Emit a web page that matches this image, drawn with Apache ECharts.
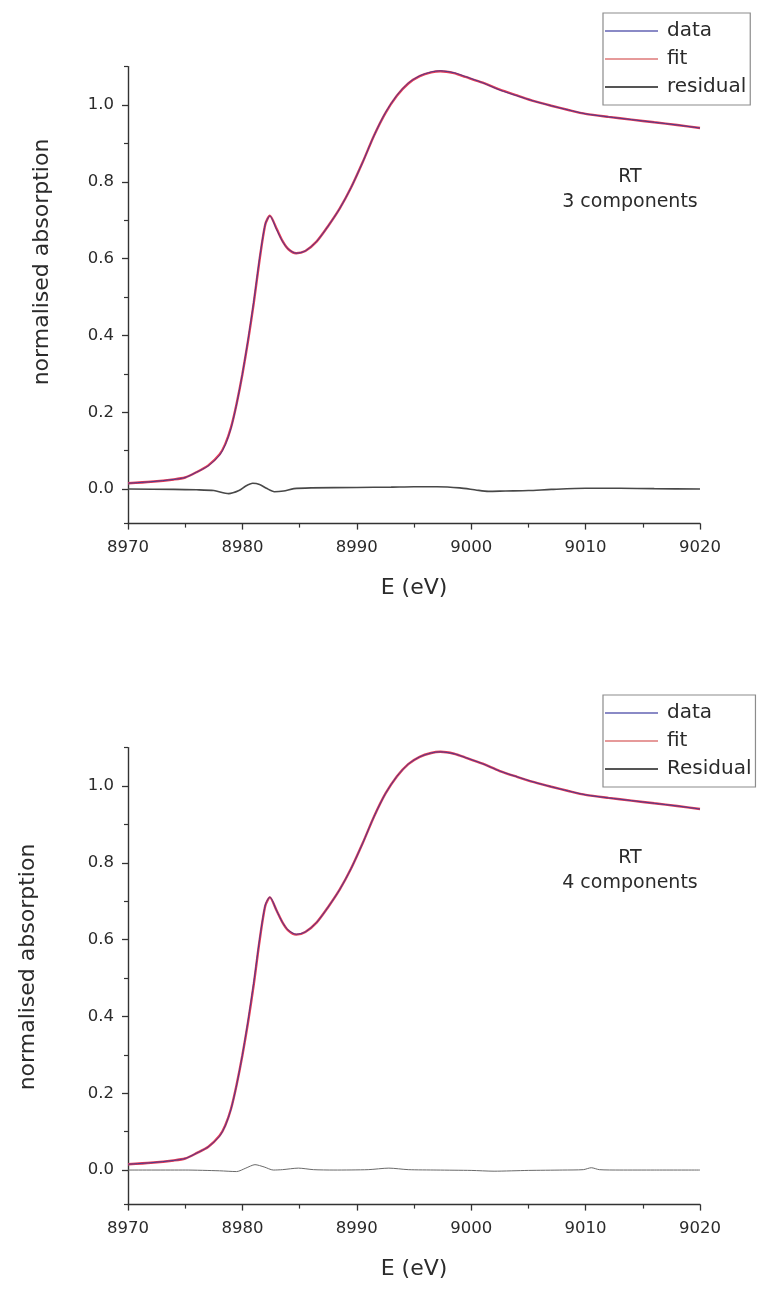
<!DOCTYPE html>
<html>
<head>
<meta charset="utf-8">
<script src="https://cdn.jsdelivr.net/npm/echarts@6/dist/echarts.min.js"></script>
<style>
  html, body { margin: 0; padding: 0; background: #fff; }
  #chart { width: 763px; height: 1292px; }
</style>
</head>
<body>
<div id="chart"></div>
<script>
// Cu K-edge XANES, room temperature: measured spectrum, linear-combination fits and residuals
const energy = [8970, 8972, 8974, 8975, 8976, 8977, 8978, 8978.5, 8979, 8979.5, 8980, 8980.5, 8981, 8981.5, 8982, 8982.4,
  8983, 8983.5, 8984, 8984.7, 8985.5, 8986.5, 8987.5, 8988.5, 8989.5, 8990.5, 8991.5, 8992.5, 8993.5, 8994.5, 8995.5,
  8996.5, 8997.3, 8998.5, 8999.5, 9001, 9002.5, 9004, 9005.5, 9007, 9008.5, 9010, 9012, 9014, 9016, 9018, 9020];

const absData = [0.015, 0.019, 0.025, 0.030, 0.044, 0.060, 0.088, 0.115, 0.158, 0.222, 0.300, 0.390, 0.490, 0.600, 0.690, 0.711,
  0.675, 0.645, 0.625, 0.614, 0.620, 0.645, 0.685, 0.730, 0.785, 0.850, 0.920, 0.980, 1.025, 1.057, 1.076,
  1.086, 1.089, 1.084, 1.074, 1.058, 1.039, 1.024, 1.010, 0.998, 0.987, 0.977, 0.969, 0.962, 0.955, 0.948, 0.940];

const absFit3 = [0.015, 0.019, 0.025, 0.030, 0.044, 0.061, 0.090, 0.117, 0.160, 0.223, 0.299, 0.387, 0.486, 0.597, 0.689, 0.712,
  0.677, 0.646, 0.625, 0.614, 0.620, 0.645, 0.685, 0.730, 0.785, 0.850, 0.920, 0.979, 1.024, 1.056, 1.075,
  1.085, 1.088, 1.083, 1.073, 1.058, 1.040, 1.025, 1.010, 0.998, 0.987, 0.977, 0.969, 0.962, 0.955, 0.948, 0.940];

const absFit4 = [0.015, 0.019, 0.025, 0.030, 0.044, 0.060, 0.089, 0.116, 0.159, 0.223, 0.299, 0.386, 0.485, 0.597, 0.688, 0.710,
  0.675, 0.645, 0.624, 0.613, 0.620, 0.645, 0.685, 0.730, 0.785, 0.850, 0.920, 0.980, 1.025, 1.057, 1.076,
  1.086, 1.089, 1.084, 1.074, 1.058, 1.039, 1.024, 1.010, 0.998, 0.987, 0.977, 0.969, 0.962, 0.955, 0.948, 0.940];

const resEnergy3 = [8970, 8974, 8976, 8977.5, 8978.8, 8979.7, 8980.3, 8980.9, 8981.5, 8982.1, 8982.8, 8983.6, 8984.5,
  8986, 8990, 8993, 8995, 8997, 8999, 9000.5, 9001.5, 9003, 9005, 9007, 9010, 9013, 9016, 9020];
const residual3 = [0, -0.001, -0.002, -0.004, -0.012, -0.004, 0.008, 0.015, 0.012, 0.002, -0.007, -0.005, 0.001,
  0.003, 0.004, 0.005, 0.006, 0.006, 0.003, -0.003, -0.006, -0.005, -0.004, -0.001, 0.002, 0.002, 0.001, 0];

const resEnergy4 = [8970, 8975, 8978, 8979.5, 8980.3, 8981.1, 8981.9, 8982.7, 8983.5, 8984.9, 8986.2, 8988, 8991,
  8992.8, 8994.5, 8997, 9000, 9002, 9005, 9008, 9009.8, 9010.5, 9011.2, 9013, 9016, 9020];
const residual4 = [0, 0, -0.002, -0.004, 0.005, 0.014, 0.008, 0, 0.001, 0.005, 0.001, 0, 0.001,
  0.005, 0.001, 0, -0.001, -0.003, -0.001, 0, 0.001, 0.006, 0.001, 0, 0, 0];

// axis ticks and labels
const xMajorTicks = [8970, 8980, 8990, 9000, 9010, 9020];
const xMinorTicks = [8975, 8985, 8995, 9005, 9015];
const yMajorTicks = [0.0, 0.2, 0.4, 0.6, 0.8, 1.0];
const yMinorTicks = [-0.09, 0.1, 0.3, 0.5, 0.7, 0.9, 1.1];

const panelNotes = [['RT', '3 components'], ['RT', '4 components']];
const legendNames = [['data', 'fit', 'residual'], ['data', 'fit', 'Residual']];

const FONT = '"DejaVu Sans", sans-serif';
const INK = '#2b2b2b';
const AXIS = '#333';
const pairs = (xs, ys) => xs.map((x, i) => [x, ys[i]]);

const gridTops = [66.6, 747.6];
const plotH = 457;

const grids = gridTops.map(t => ({ left: 128, right: 63, top: t, height: plotH }));

const xAxes = [], yAxes = [];
gridTops.forEach((t, g) => {
  xAxes.push({
    type: 'value', gridIndex: g, min: 8970, max: 9020, position: 'bottom',
    axisLine: { onZero: false, lineStyle: { color: AXIS, width: 1.4 } },
    axisTick: { customValues: xMajorTicks, length: 6, lineStyle: { color: AXIS, width: 1.3 } },
    axisLabel: { customValues: xMajorTicks, margin: 16, color: INK, fontFamily: FONT, fontSize: 16.5,
      formatter: v => String(v) },
    splitLine: { show: false },
    name: 'E (eV)', nameLocation: 'middle', nameGap: 54,
    nameTextStyle: { fontFamily: FONT, fontSize: 22, color: INK }
  });
  xAxes.push({
    type: 'value', gridIndex: g, min: 8970, max: 9020, position: 'bottom',
    axisLine: { show: false, onZero: false },
    axisTick: { customValues: xMinorTicks, length: 4, lineStyle: { color: AXIS, width: 1.2 } },
    axisLabel: { show: false }, splitLine: { show: false }
  });
  yAxes.push({
    type: 'value', gridIndex: g, min: -0.09, max: 1.1, position: 'left',
    axisLine: { show: true, onZero: false, lineStyle: { color: AXIS, width: 1.4 } },
    axisTick: { show: true, customValues: yMajorTicks, length: 6, lineStyle: { color: AXIS, width: 1.3 } },
    axisLabel: { customValues: yMajorTicks, margin: 14, color: INK, fontFamily: FONT, fontSize: 16.5,
      formatter: v => v.toFixed(1) },
    splitLine: { show: false }
  });
  yAxes.push({
    type: 'value', gridIndex: g, min: -0.09, max: 1.1, position: 'left', offset: 0,
    axisLine: { show: false, onZero: false },
    axisTick: { show: true, customValues: yMinorTicks, length: 4, lineStyle: { color: AXIS, width: 1.2 } },
    axisLabel: { show: false }, splitLine: { show: false }
  });
});

function lineSeries(name, g, data, color, width, z) {
  return {
    name, type: 'line', xAxisIndex: 2 * g, yAxisIndex: 2 * g, data,
    showSymbol: false, symbol: 'none', smooth: 0.25, z,
    lineStyle: { color, width }, itemStyle: { color }, silent: true
  };
}

const series = [
  lineSeries('fit', 0, pairs(energy, absFit3), '#e43a55', 2.4, 2),
  lineSeries('data', 0, pairs(energy, absData), '#4a3a8e', 1.0, 3),
  lineSeries('residual', 0, pairs(resEnergy3, residual3), '#484848', 1.6, 2),
  lineSeries('fit', 1, pairs(energy, absFit4), '#e43a55', 2.4, 2),
  lineSeries('data', 1, pairs(energy, absData), '#4a3a8e', 1.0, 3),
  lineSeries('Residual', 1, pairs(resEnergy4, residual4), '#6a6a6a', 1.0, 2)
];

const legendTops = [13, 695];
const legendColors = ['#8a8ac6', '#e69a9a', '#555'];
const legends = legendTops.map((top, g) => ({
  left: 603, top, orient: 'vertical', selectedMode: false,
  icon: 'rect', itemWidth: 53, itemHeight: 2, itemGap: 8,
  padding: [8, 4, 8, 2], borderColor: '#8c8c8c', borderWidth: 1.2,
  textStyle: { fontFamily: FONT, fontSize: 20, color: INK, padding: [0, 0, 0, 4] },
  data: legendNames[g].map((n, i) => ({ name: n, itemStyle: { color: legendColors[i] } }))
}));

const yNamePos = [[42, 262], [28, 967]];
const graphics = [];
gridTops.forEach((t, g) => {
  graphics.push({
    type: 'text', x: yNamePos[g][0], y: yNamePos[g][1], rotation: Math.PI / 2,
    style: { text: 'normalised absorption', fontFamily: FONT, fontSize: 22, fill: INK,
      textAlign: 'center', textVerticalAlign: 'middle' }
  });
  graphics.push({
    type: 'text', x: 630, y: t + 110,
    style: { text: panelNotes[g][0], fontFamily: FONT, fontSize: 19, fill: INK,
      textAlign: 'center', textVerticalAlign: 'middle' }
  });
  graphics.push({
    type: 'text', x: 630, y: t + 135,
    style: { text: panelNotes[g][1], fontFamily: FONT, fontSize: 19, fill: INK,
      textAlign: 'center', textVerticalAlign: 'middle' }
  });
});

const chart = echarts.init(document.getElementById('chart'), null, { renderer: 'canvas' });
chart.setOption({
  animation: false,
  backgroundColor: '#fff',
  grid: grids,
  xAxis: xAxes,
  yAxis: yAxes,
  legend: legends,
  series,
  graphic: graphics
});
</script>
</body>
</html>
